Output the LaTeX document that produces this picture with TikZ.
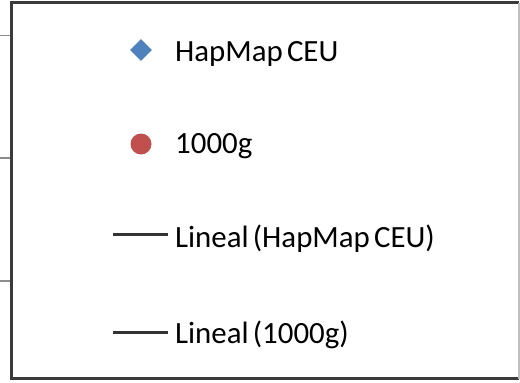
\documentclass[tikz,border=0pt]{standalone}
\usepackage{fontspec}
\setmainfont{Carlito}[WordSpace=0.6]
\usetikzlibrary{shapes.geometric}
\definecolor{seriesblue}{HTML}{4F81BD}
\definecolor{seriesred}{HTML}{C0504D}
\definecolor{framegray}{HTML}{3A3A3A}
\definecolor{tickgray}{HTML}{8C8C8C}
\begin{document}
\begin{tikzpicture}[x=1bp,y=-1bp,
  legendtext/.style={anchor=base west,inner sep=0pt,font=\fontsize{31}{37}\selectfont},
  trendline/.style={draw=black!80,line width=2.5bp},
  axistick/.style={draw=tickgray,line width=1.2bp}]
\useasboundingbox (0,0) rectangle (520,382);
% axis ticks peeking out at the left
\draw[axistick] (0,35.5) -- (11,35.5);
\draw[axistick] (0,158) -- (11,158);
\draw[axistick] (0,281) -- (11,281);
% legend frame
\draw[framegray,line width=2.2bp] (519,2.5) -- (11.5,2.5) -- (11.5,378.5) -- (519,378.5);
\draw[black!25,line width=1.5bp] (519,2.5) -- (519,378.5);
% entries
\node[diamond,fill=seriesblue,minimum size=22bp,inner sep=0pt] (m1) at (141,50) {};
\node[legendtext] (t1) at (175,61) {HapMap CEU};
\node[circle,fill=seriesred,minimum size=21bp,inner sep=0pt] (m2) at (141,144) {};
\node[legendtext] (t2) at (175,153) {1000g};
\coordinate (l1a) at (113,234.5);
\coordinate (l1b) at (168,234.5);
\draw[trendline] (l1a) -- (l1b);
\node[legendtext] (t3) at (175,247) {Lineal (HapMap CEU)};
\coordinate (l2a) at (113,332.5);
\coordinate (l2b) at (168,332.5);
\draw[trendline] (l2a) -- (l2b);
\node[legendtext] (t4) at (175,343) {Lineal (1000g)};
\end{tikzpicture}
\end{document}
